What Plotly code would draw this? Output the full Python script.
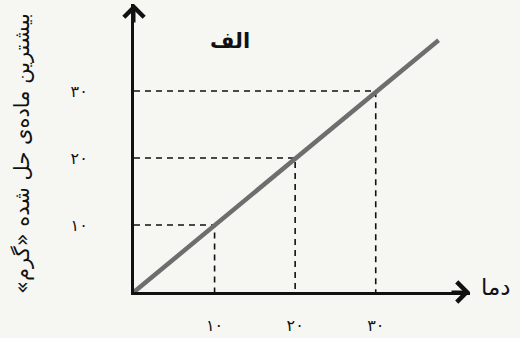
import plotly.graph_objects as go

# temperature (x) vs max dissolved amount (y)
line_temp = [0, 37.8]
line_amount = [0, 37.6]

guide_temp = [10, 20, 30]
guide_amount = [10, 20, 30]

tick_vals = [10, 20, 30]
tick_text = ['۱۰', '۲۰', '۳۰']

fa_font = 'DejaVu Sans'
bg = '#f6f6f3'
RLM = '\u200f'

fig = go.Figure()

# dashed guide lines: y-axis -> point -> x-axis
for t, a in zip(guide_temp, guide_amount):
    fig.add_trace(go.Scatter(x=[0, t, t], y=[a, a, 0], mode='lines',
                             line=dict(color='#111111', width=1.6, dash='6px,5px'),
                             hoverinfo='skip', showlegend=False))

fig.add_trace(go.Scatter(x=line_temp, y=line_amount, mode='lines',
                         line=dict(color='#6e6e6e', width=4.5),
                         showlegend=False))

fig.update_xaxes(range=[0, 41.7], showgrid=False, zeroline=False,
                 showline=True, linecolor='#111111', linewidth=3,
                 tickvals=tick_vals, ticktext=tick_text, ticks='',
                 ticklabelstandoff=17, automargin=False,
                 tickfont=dict(family=fa_font, size=16, color='#111111'))
fig.update_yaxes(range=[0, 43], showgrid=False, zeroline=False,
                 showline=True, linecolor='#111111', linewidth=3,
                 tickvals=tick_vals, ticktext=tick_text, ticks='',
                 ticklabelstandoff=40, automargin=False,
                 tickfont=dict(family=fa_font, size=16, color='#111111'))

# arrow heads on the axes
fig.add_annotation(x=1, y=0, xref='x domain', yref='y domain', ax=-20, ay=0,
                   text='', showarrow=True, arrowhead=4, arrowsize=1.3,
                   arrowwidth=3, arrowcolor='#111111')
fig.add_annotation(x=0, y=1, xref='x domain', yref='y domain', ax=0, ay=20,
                   text='', showarrow=True, arrowhead=4, arrowsize=1.3,
                   arrowwidth=3, arrowcolor='#111111')

fig.add_annotation(x=0.22, y=0.92, xref='x domain', yref='y domain',
                   text='<b>الف</b>', showarrow=False,
                   font=dict(family=fa_font, size=21, color='#111111'))
fig.add_annotation(x=1.0, y=0, xref='x domain', yref='y domain',
                   xanchor='left', xshift=9, yshift=-10,
                   text='دما', showarrow=False,
                   font=dict(family=fa_font, size=23, color='#111111'))
fig.add_annotation(x=-0.375, y=0.48, xref='x domain', yref='y domain',
                   text=RLM + 'بیشترین ماده‌ی حل شده «گرم»' + RLM, textangle=-90,
                   showarrow=False,
                   font=dict(family=fa_font, size=21, color='#111111'))

fig.update_layout(width=520, height=338,
                  margin=dict(l=134, r=50, t=4, b=46),
                  paper_bgcolor=bg, plot_bgcolor=bg)

fig.write_html("out.html", config={'displayModeBar': False},
               post_script="document.body.style.margin='0';")
